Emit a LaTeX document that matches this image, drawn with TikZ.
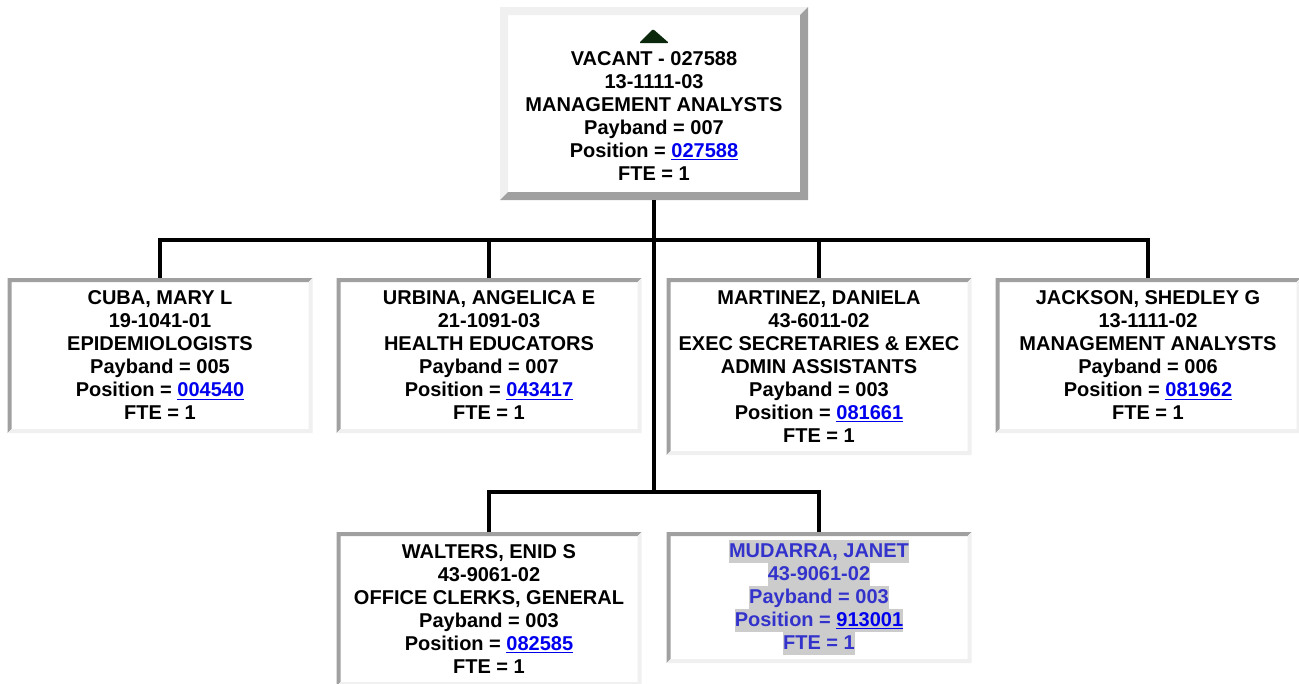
\documentclass[tikz,border=0pt]{standalone}
\usepackage{fontspec}
\setmainfont{Liberation Sans}
\usepackage{xcolor}
\definecolor{bevellight}{RGB}{240, 240, 240}
\definecolor{beveldark}{RGB}{160, 160, 160}
\definecolor{linkblue}{RGB}{0, 0, 238}
\definecolor{selectblue}{RGB}{51, 51, 204}
\definecolor{selectgray}{RGB}{204, 204, 204}
\definecolor{caretgreen}{RGB}{12, 40, 12}
\usetikzlibrary{positioning, calc}

\newdimen\pxu \pxu=0.75pt
\newcommand{\poslink}[1]{\textcolor{linkblue}{\underline{#1}}}
\newcommand{\selline}[1]{{\setlength{\fboxsep}{0pt}\colorbox{selectgray}{\rule[-4.2pt]{0pt}{17.2pt}#1}}}
% #1 node, #2 edge width, #3 top-left colour, #4 bottom-right colour
\newcommand{\bevel}[4]{%
  \fill[#3] (#1.south west) -- (#1.north west) -- (#1.north east)
    -- ($(#1.north east)+(-#2,#2)$) -- ($(#1.north west)+(#2,#2)$)
    -- ($(#1.south west)+(#2,-#2)$) -- cycle;
  \fill[#4] (#1.north east) -- (#1.south east) -- (#1.south west)
    -- ($(#1.south west)+(#2,-#2)$) -- ($(#1.south east)+(-#2,-#2)$)
    -- ($(#1.north east)+(-#2,#2)$) -- cycle;
}

\tikzset{
  cardtext/.style={align=center, inner sep=0pt, outer sep=0pt,
    font=\bfseries\fontsize{15}{17.25}\selectfont},
  card/.style={cardtext, anchor=north, fill=white,
    minimum width=305\pxu, minimum height=155\pxu},
  wire/.style={line width=4\pxu},
}

\begin{document}
\begin{tikzpicture}[x=0.75pt, y=-0.75pt]
    \useasboundingbox (0,0) rectangle (1299,683);

    % head of unit
    \node[card, minimum width=308\pxu, minimum height=193\pxu] (vacant) at (654,7) {};
    \bevel{vacant}{8}{bevellight}{beveldark}
    \fill[caretgreen, rounded corners=1pt] ($(vacant.north)+(-15,36)$) -- ($(vacant.north)+(15,36)$)
        -- ($(vacant.north)+(-1,22)$) -- cycle;
    \node[cardtext] (vacant text) at (654,116)
        {VACANT - 027588\\13-1111-03\\MANAGEMENT ANALYSTS\\Payband = 007\\Position = \poslink{027588}\\FTE = 1};

    % first level
    \node[card] (cuba) at (160,278)
        {CUBA, MARY L\\19-1041-01\\EPIDEMIOLOGISTS\\Payband = 005\\Position = \poslink{004540}\\FTE = 1};
    \node[card] (urbina) at (489,278)
        {URBINA, ANGELICA E\\21-1091-03\\HEALTH EDUCATORS\\Payband = 007\\Position = \poslink{043417}\\FTE = 1};
    \node[card, minimum height=177\pxu] (martinez) at (819,278)
        {MARTINEZ, DANIELA\\43-6011-02\\EXEC SECRETARIES \& EXEC\\ADMIN ASSISTANTS\\Payband = 003\\Position = \poslink{081661}\\FTE = 1};
    \node[card] (jackson) at (1148,278)
        {JACKSON, SHEDLEY G\\13-1111-02\\MANAGEMENT ANALYSTS\\Payband = 006\\Position = \poslink{081962}\\FTE = 1};

    % second level
    \node[card, minimum height=154\pxu] (walters) at (489,532)
        {WALTERS, ENID S\\43-9061-02\\OFFICE CLERKS, GENERAL\\Payband = 003\\Position = \poslink{082585}\\FTE = 1};
    \node[card, minimum height=131\pxu, text=selectblue] (mudarra) at (819,532)
        {\selline{MUDARRA, JANET}\\\selline{43-9061-02}\\\selline{Payband = 003}\\\selline{Position = \poslink{913001}}\\\selline{FTE = 1}};

    \foreach \card in {cuba, urbina, martinez, jackson, walters, mudarra}
        {\bevel{\card}{4}{beveldark}{bevellight}}

    % reporting lines
    \coordinate (bus one) at (654,240);
    \coordinate (bus two) at (654,492);
    \draw[wire] (vacant.south) -- (bus two);
    \draw[wire] (cuba.north) |- (bus one) -| (jackson.north);
    \draw[wire] (urbina.north) -- (urbina.north |- bus one);
    \draw[wire] (martinez.north) -- (martinez.north |- bus one);
    \draw[wire] (walters.north) |- (bus two) -| (mudarra.north);
\end{tikzpicture}
\end{document}
